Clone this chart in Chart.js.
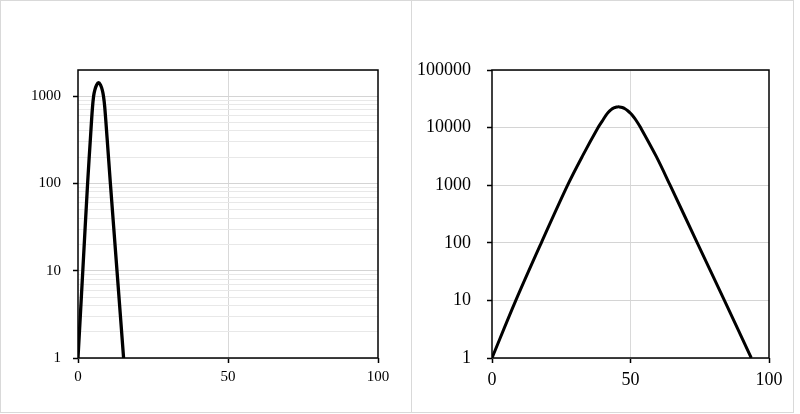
<!DOCTYPE html>
<html>
<head>
<meta charset="utf-8">
<script src="https://cdn.jsdelivr.net/npm/chart.js@4/dist/chart.umd.min.js"></script>
<style>
    body { margin: 0; background: #fff; }
    .panel { position: absolute; top: 0; height: 413px; border: 1px solid #d9d9d9; box-sizing: border-box; }
    canvas { position: absolute; top: 0; }
</style>
</head>
<body>
<div class="panel" style="left:0;width:412px"></div>
<div class="panel" style="left:411px;width:383px"></div>
<canvas id="leftChart" width="411" height="414" style="left:0"></canvas>
<canvas id="rightChart" width="381" height="414" style="left:412px"></canvas>
<script>
// values
const leftX = [0, 1.6, 3.2, 4.2, 4.8, 5.2, 5.6, 6.2, 6.86, 7.5, 8.1, 8.5, 8.9, 9.7, 10.8, 13.0, 15.2];
const leftY = [1, 10, 100, 355, 724, 1000, 1175, 1350, 1435, 1350, 1175, 1000, 759, 331, 100, 10, 1];

const rightX = [0, 8.6, 17.8, 27.3, 32.6, 38.3, 40, 41, 42, 43, 44, 45, 45.5, 46, 47, 48, 49, 50, 51, 52, 53.7, 59.3, 64.3, 74.1, 83.9, 93.6];
const rightY = [1, 10, 100, 1000, 3160, 10000, 13400, 16000, 18450, 20500, 22000, 22800, 22900, 22850, 22300, 21200, 19600, 17700, 15600, 13400, 9900, 3160, 1000, 100, 10, 1];

const xTicks = [0, 50, 100];
const leftYTicks = [1, 10, 100, 1000];
const leftYMax = 2000;
const rightYTicks = [1, 10, 100, 1000, 10000, 100000];
const rightYMax = 100000;

const FONT = "'Liberation Serif', 'Times New Roman', serif";

// light minor lines (2..9 per decade) for the left panel
function minorLines(majors, max) {
    let out = [];
    majors.forEach((m) => {
        for (let k = 2; k <= 9; k++) {
            if (m * k <= max) out.push(m * k);
        }
    });
    return out;
}

const framePlugin = {
    id: 'frame',
    beforeDatasetsDraw(chart) {
        const a = chart.chartArea;
        const ctx = chart.ctx;
        ctx.save();
        ctx.strokeStyle = '#000';
        ctx.lineWidth = 1.5;
        ctx.strokeRect(a.left, a.top, a.right - a.left, a.bottom - a.top);
        ctx.restore();
    }
};

function makeChart(id, xs, ys, o) {
    const points = xs.map((x, i) => ({ x: x, y: ys[i] }));
    const minors = o.minor ? minorLines(o.yTicks, o.yMax) : [];
    const allTicks = o.yTicks.concat(minors);

    return new Chart(document.getElementById(id), {
        type: 'line',
        data: {
            datasets: [{
                data: points,
                borderColor: '#000',
                borderWidth: o.lineWidth,
                pointRadius: 0,
                fill: false,
                tension: 0.35,
            }]
        },
        options: {
            responsive: false,
            animation: false,
            layout: { padding: { top: 70, right: o.padRight, bottom: 16, left: 0 } },
            plugins: { legend: { display: false }, tooltip: { enabled: false } },
            scales: {
                x: {
                    type: 'linear',
                    min: 0,
                    max: 100,
                    afterBuildTicks: (s) => { s.ticks = xTicks.map((v) => ({ value: v })); },
                    afterFit: (s) => { s.height = 40; },
                    ticks: {
                        autoSkip: false,
                        maxRotation: 0,
                        padding: o.xPad,
                        color: '#000',
                        font: { family: FONT, size: o.fontSize },
                        callback: (v) => String(v),
                    },
                    grid: {
                        color: (c) => (c.tick && c.tick.value == 50 ? '#d9d9d9' : 'rgba(0,0,0,0)'),
                        tickColor: '#000',
                        tickLength: 5,
                        lineWidth: 1,
                        tickWidth: 1.5,
                    },
                    border: { display: false },
                },
                y: {
                    type: 'logarithmic',
                    min: 1,
                    max: o.yMax,
                    afterBuildTicks: (s) => { s.ticks = allTicks.map((v) => ({ value: v })); },
                    afterFit: (s) => { s.width = o.yWidth; },
                    ticks: {
                        autoSkip: false,
                        padding: o.yPad,
                        color: '#000',
                        font: { family: FONT, size: o.fontSize },
                        callback: (v) => (o.yTicks.includes(v) ? String(v) : ''),
                    },
                    grid: {
                        color: (c) => (c.tick && o.yTicks.includes(c.tick.value) ? '#d4d4d4' : '#e8e8e8'),
                        tickColor: (c) => (c.tick && o.yTicks.includes(c.tick.value) ? '#000' : 'rgba(0,0,0,0)'),
                        tickLength: 5,
                        lineWidth: 1,
                        tickWidth: 1.5,
                    },
                    border: { display: false },
                },
            },
        },
        plugins: [framePlugin],
    });
}

makeChart('leftChart', leftX, leftY, {
    yTicks: leftYTicks, yMax: leftYMax, minor: true,
    yWidth: 78, padRight: 33, fontSize: 15, yPad: 12, xPad: 5, lineWidth: 3.3,
});
makeChart('rightChart', rightX, rightY, {
    yTicks: rightYTicks, yMax: rightYMax, minor: false,
    yWidth: 80, padRight: 24, fontSize: 18, yPad: 16, xPad: 6, lineWidth: 3,
});
</script>
</body>
</html>
